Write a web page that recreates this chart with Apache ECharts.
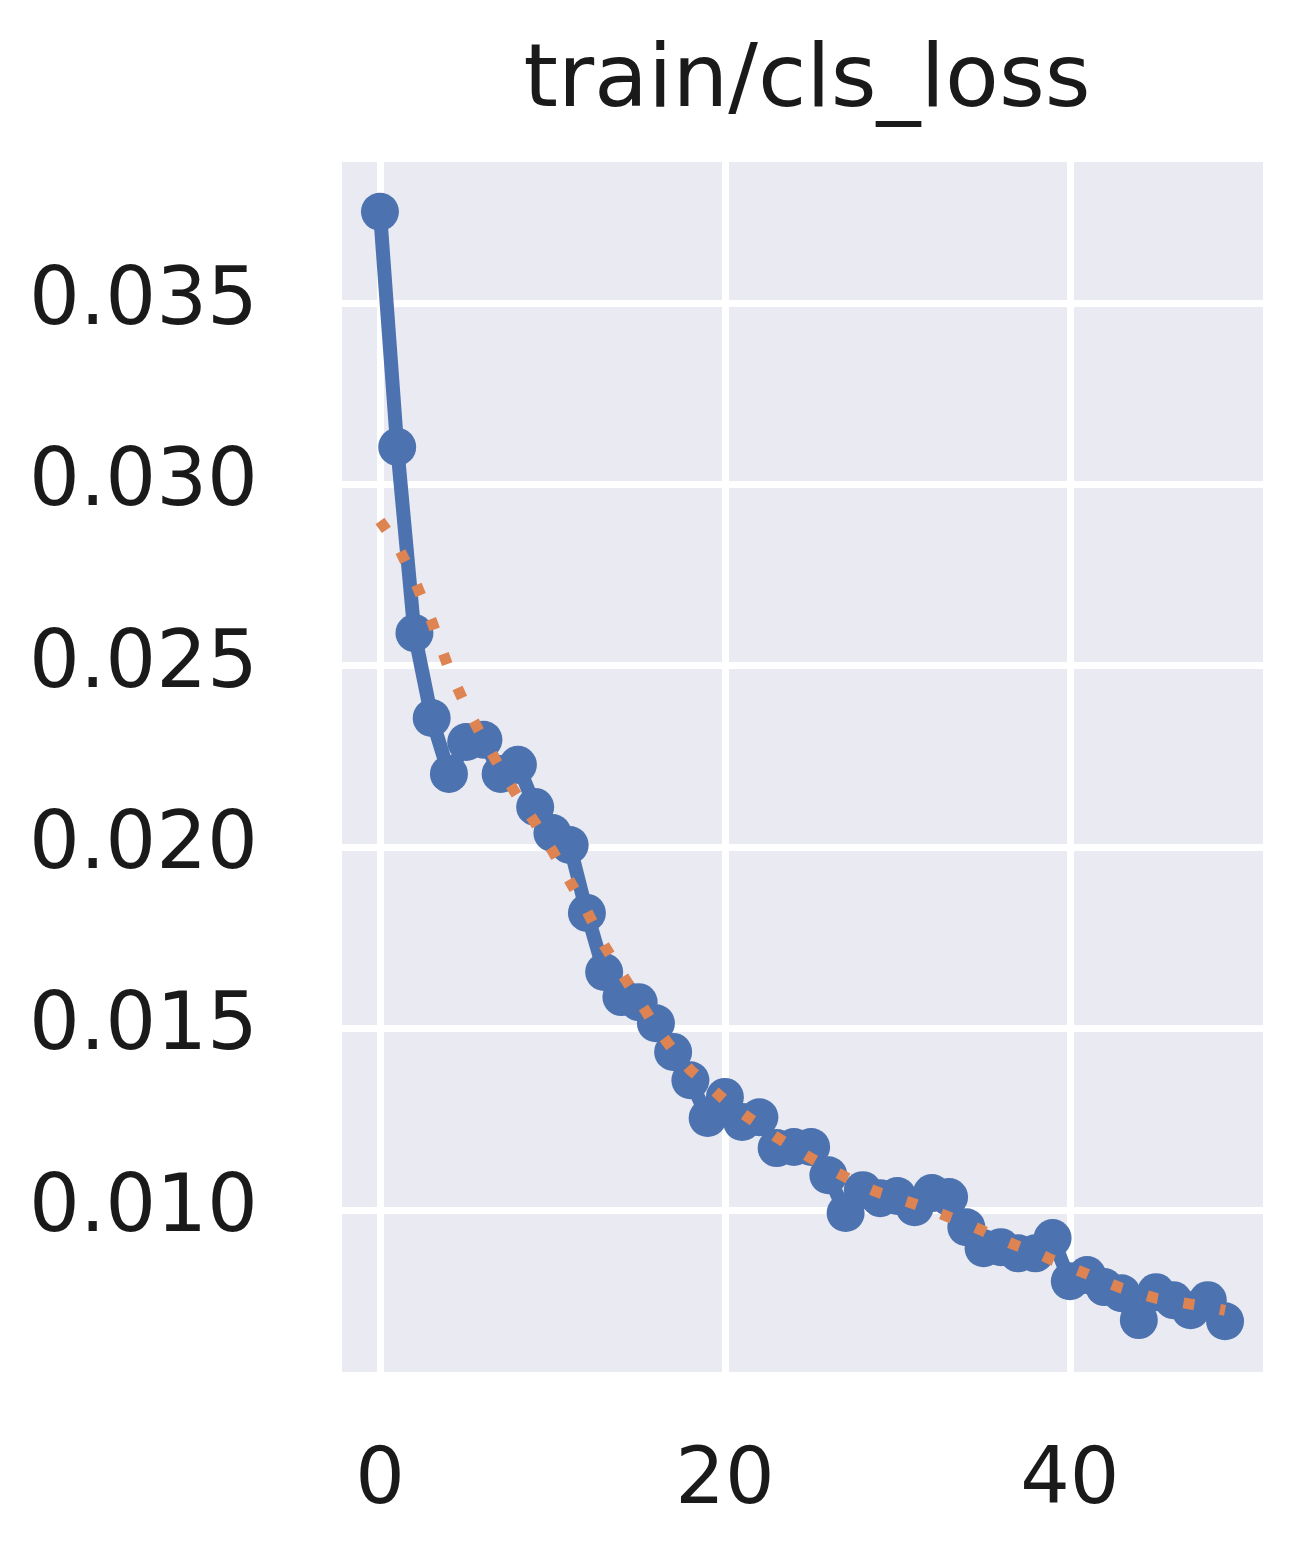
<!DOCTYPE html>
<html>
<head>
<meta charset="utf-8">
<title>train/cls_loss</title>
<script src="https://cdn.jsdelivr.net/npm/echarts@6/dist/echarts.min.js"></script>
<style>
  html, body { margin: 0; padding: 0; background: #fff; }
  #chart { width: 1291px; height: 1546px; }
</style>
</head>
<body>
<div id="chart"></div>
<script>
// epochs 0..49
const epochs = [
  0, 1, 2, 3, 4, 5, 6, 7, 8, 9,
  10, 11, 12, 13, 14, 15, 16, 17, 18, 19,
  20, 21, 22, 23, 24, 25, 26, 27, 28, 29,
  30, 31, 32, 33, 34, 35, 36, 37, 38, 39,
  40, 41, 42, 43, 44, 45, 46, 47, 48, 49
]
// raw loss (blue)
const clsLoss = [
  0.03751, 0.03103, 0.02590, 0.02356, 0.02202, 0.02290, 0.02296, 0.02202, 0.02227, 0.02111,
  0.02039, 0.02006, 0.01819, 0.01656, 0.01587, 0.01573, 0.01515, 0.01436, 0.01358, 0.01254,
  0.01312, 0.01243, 0.01256, 0.01171, 0.01174, 0.01174, 0.01096, 0.00992, 0.01055, 0.01033,
  0.01039, 0.01008, 0.01047, 0.01036, 0.00953, 0.00895, 0.00898, 0.00881, 0.00881, 0.00923,
  0.00804, 0.00821, 0.00788, 0.00771, 0.00697, 0.00774, 0.00752, 0.00724, 0.00752, 0.00694
]
// smoothed (orange dotted)
const smoothLoss = [
  0.02899, 0.02833, 0.02736, 0.02623, 0.02491, 0.02386, 0.02298, 0.02216, 0.02138, 0.02067,
  0.01990, 0.01907, 0.01824, 0.01730, 0.01653, 0.01579, 0.01504, 0.01441, 0.01386, 0.01345,
  0.01303, 0.01267, 0.01234, 0.01201, 0.01171, 0.01143, 0.01116, 0.01091, 0.01066, 0.01047,
  0.01033, 0.01017, 0.01000, 0.00981, 0.00964, 0.00942, 0.00920, 0.00901, 0.00884, 0.00862,
  0.00843, 0.00824, 0.00804, 0.00785, 0.00771, 0.00757, 0.00749, 0.00741, 0.00733, 0.00724
]
const xTicks = [0, 20, 40]
const yTicks = [0.010, 0.015, 0.020, 0.025, 0.030, 0.035]

const chart = echarts.init(document.getElementById('chart'))
const fontFamily = '"DejaVu Sans", sans-serif'

chart.setOption({
  backgroundColor: '#ffffff',
  animation: false,
  title: {
    text: 'train/cls_loss',
    left: 802,
    textAlign: 'center',
    top: 34,
    textStyle: { fontFamily: fontFamily, fontSize: 88, fontWeight: 'normal', color: '#1a1a1a' }
  },
  grid: {
    left: 342,
    right: 28,
    top: 162,
    bottom: 174,
    show: true,
    backgroundColor: '#EAEAF2',
    borderWidth: 0
  },
  xAxis: {
    type: 'value',
    min: -2.2,
    max: 51.2,
    axisLine: { show: false },
    axisTick: { show: false, customValues: xTicks },
    axisLabel: {
      customValues: xTicks,
      margin: 72,
      fontFamily: fontFamily,
      fontSize: 78,
      color: '#1a1a1a'
    },
    splitLine: { show: true, lineStyle: { color: '#ffffff', width: 7 } }
  },
  yAxis: {
    type: 'value',
    min: 0.00554,
    max: 0.03888,
    axisLine: { show: false },
    axisTick: { show: false, customValues: yTicks },
    axisLabel: {
      customValues: yTicks,
      margin: 84,
      fontFamily: fontFamily,
      fontSize: 80,
      color: '#1a1a1a',
      formatter: v => v.toFixed(3)
    },
    splitLine: { show: true, lineStyle: { color: '#ffffff', width: 7 } }
  },
  series: [
    {
      type: 'line',
      data: epochs.map((e, i) => [e, clsLoss[i]]),
      symbol: 'circle',
      symbolSize: 38,
      itemStyle: { color: '#4C72B0' },
      lineStyle: { color: '#4C72B0', width: 14 },
      z: 2
    },
    {
      type: 'line',
      data: epochs.map((e, i) => [e, smoothLoss[i]]),
      showSymbol: false,
      lineStyle: { color: '#DD8452', width: 11, type: [11, 26], cap: 'butt' },
      z: 3
    }
  ]
})
</script>
</body>
</html>
